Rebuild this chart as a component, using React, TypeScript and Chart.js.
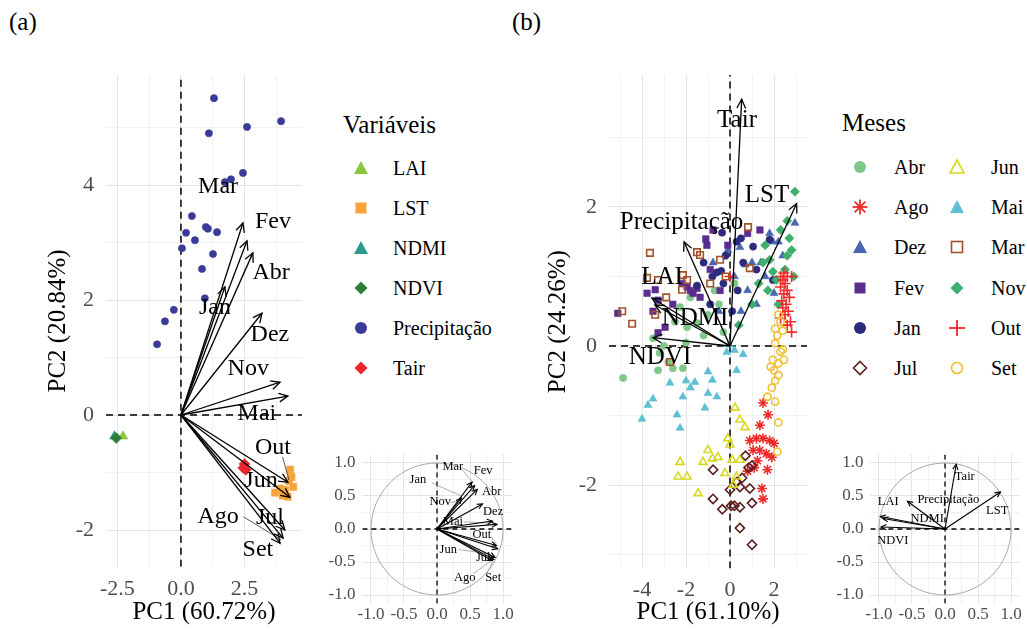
import React, { useEffect, useRef } from "react";
import { Chart, registerables } from "chart.js";
Chart.register(...registerables);

const SERIF = "'Liberation Serif', 'Times New Roman', Times, serif";
type P = [number, number];

// ---------------- tick positions ----------------
const ticksAX = [-2.5, -1.25, 0, 1.25, 2.5, 3.75];
const ticksAY = [-2, -1, 0, 1, 2, 3, 4, 5];
const ticksBX = [-5, -4, -3, -2, -1, 0, 1, 2, 3];
const ticksBY = [-3, -2, -1, 0, 1, 2, 3];
const ticksInset = [-1, -0.75, -0.5, -0.25, 0, 0.25, 0.5, 0.75, 1];

// ---------------- Panel (a): individuals = variables ----------------
const varNamesA = ["LAI", "LST", "NDMI", "NDVI", "Precipitação", "Tair"];
const varColorsA = ["#8CC63F", "#F7A33A", "#2A9C8C", "#2E7D3B", "#3A3B98", "#E8262B"];
const varStylesA = ["triangle", "rect", "triangle", "rectRot", "circle", "rectRot"];
const laiA: P[] = [[-2.28, -0.37]];
const lstA: P[] = [[4.3, -0.95], [4.35, -1.08], [4.1, -1.3], [3.7, -1.35], [4.2, -1.42], [4.42, -1.25], [3.9, -1.28], [4.25, -1.15], [4.0, -1.4]];
const ndmiA: P[] = [[-2.62, -0.37]];
const ndviA: P[] = [[-2.55, -0.4]];
const precipA: P[] = [[1.3, 5.51], [1.1, 4.9], [2.6, 5.01], [3.94, 5.11], [1.73, 4.05], [1.97, 4.1], [2.44, 4.21], [0.43, 3.46], [0.98, 3.27], [1.06, 3.24], [0.2, 3.17], [1.42, 3.18], [0.55, 3.04], [0.04, 2.9], [1.26, 2.8], [0.83, 2.54], [0.94, 2.03], [-0.28, 1.83], [-0.63, 1.63], [-0.94, 1.23]];
const tairA: P[] = [[2.5, -0.85], [2.55, -0.95], [2.45, -0.92]];
const pointsA = [laiA, lstA, ndmiA, ndviA, precipA, tairA];

const monthsA = ["Jan", "Fev", "Mar", "Abr", "Mai", "Jun", "Jul", "Ago", "Set", "Out", "Nov", "Dez"];
const arrowAX = [1.73, 2.44, 2.6, 2.83, 4.21, 4.29, 4.09, 4.02, 3.9, 4.21, 3.9, 3.19];
const arrowAY = [2.23, 3.34, 3.03, 2.82, 0.33, -1.43, -2.0, -2.14, -2.23, -1.17, 0.57, 1.77];
const labelAX = [1.34, 3.62, 1.46, 3.55, 2.99, 3.15, 3.5, 1.46, 3.03, 3.62, 2.65, 3.5];
const labelAY = [1.86, 3.36, 3.97, 2.47, 0.03, -1.15, -1.78, -1.77, -2.35, -0.56, 0.8, 1.39];
const leaderA: [P, P][] = [[[4.0, -0.73], [4.25, -1.13]], [[2.45, -1.77], [3.95, -2.17]]];

// inset (a): correlation circle
const insetAX = [0.37, 0.53, 0.57, 0.61, 0.91, 0.92, 0.88, 0.86, 0.84, 0.9, 0.84, 0.69];
const insetAY = [0.47, 0.71, 0.66, 0.6, 0.07, -0.3, -0.43, -0.46, -0.48, -0.25, 0.12, 0.38];
const insetLabelAX = [-0.29, 0.7, 0.24, 0.83, 0.24, 0.17, 0.7, 0.42, 0.85, 0.68, 0.05, 0.85];
const insetLabelAY = [0.74, 0.89, 0.94, 0.56, 0.11, -0.32, -0.44, -0.74, -0.74, -0.09, 0.41, 0.26];
const insetLeaderA: [P, P][] = [
  [[-0.08, 0.7], [0.37, 0.5]], [[0.38, 0.9], [0.55, 0.7]], [[0.2, 0.4], [0.33, 0.42]],
  [[0.4, 0.11], [0.8, 0.09]], [[0.33, -0.31], [0.8, -0.38]], [[0.55, -0.68], [0.82, -0.48]],
  [[0.76, -0.67], [0.84, -0.5]], [[0.82, -0.12], [0.9, -0.22]],
];

// ---------------- Panel (b): individuals = months ----------------
const monthsB = ["Abr", "Ago", "Dez", "Fev", "Jan", "Jul", "Jun", "Mai", "Mar", "Nov", "Out", "Set"];
const colorsB = ["#80C88A", "#EE2A2A", "#4767B0", "#5B2D8E", "#2D2B7E", "#5C1F1F", "#D8D820", "#5EC0D2", "#A0522D", "#3DAE6C", "#EE2A2A", "#F0C030"];
const stylesB = ["circle", "star", "triangle", "rect", "circle", "rectRot", "triangle", "triangle", "rect", "rectRot", "cross", "circle"];
const openB = [false, false, false, false, false, true, true, false, true, false, false, true];

const abrB: P[] = [[-4.86, -0.46], [-3.27, -0.35], [-2.6, -0.32], [-2.14, -0.32], [-3.5, 0.11], [-2.8, -0.23], [-1.95, 0.27], [-1.5, 0.33], [-2.27, 0.56], [-0.5, 0.6], [-1.0, 0.45], [-0.3, 0.2], [-3.0, 0.0], [-2.0, 0.05], [-1.2, 0.15], [-0.7, 0.8], [-1.8, 0.7], [-2.5, 0.35], [-3.2, -0.1], [0.2, 0.9]];
const agoB: P[] = [[1.5, -0.82], [1.73, -0.99], [1.36, -1.14], [0.9, -1.36], [1.2, -1.33], [1.5, -1.33], [1.8, -1.36], [2.0, -1.4], [1.05, -1.5], [1.35, -1.5], [1.65, -1.55], [0.8, -1.8], [1.1, -1.75], [1.7, -1.78], [1.45, -2.05], [1.5, -2.2], [1.25, -1.65], [1.9, -1.6]];
const dezB: P[] = [[2.95, 1.77], [1.8, 1.62], [1.95, 1.5], [0.45, 1.42], [0.7, 1.17], [-0.1, 1.38], [1.0, 1.2], [1.4, 1.2], [-0.77, 1.2], [2.0, 0.76], [2.4, 1.3], [0.8, 0.8], [1.6, 1.0], [0.2, 1.0], [-0.5, 0.5], [1.2, 0.6], [2.2, 1.5], [0.5, 0.5]];
const fevB: P[] = [[-5.1, 0.47], [-3.77, 0.76], [-3.4, 0.81], [-3.27, 0.66], [-2.18, 0.9], [-1.95, 0.85], [-1.68, 0.76], [-1.1, 1.54], [-0.77, 1.67], [0.8, 1.62], [1.36, 1.67], [-1.8, 0.8], [-1.5, 0.83], [-1.36, 0.7], [-2.95, 0.27], [-3.27, 0.19], [-0.45, 0.8], [-1.05, 1.45], [-2.6, 0.6], [-3.5, 0.5], [-0.9, 1.1], [-0.1, 1.45]];
const janB: P[] = [[-0.36, 1.63], [0.3, 1.5], [0.5, 1.55], [-0.6, 1.06], [-0.4, 1.08], [-0.8, 1.0], [1.05, 1.43], [1.8, 1.53], [1.95, 0.95], [0.35, 0.8], [-1.5, 0.87], [-0.2, 1.3], [0.6, 1.2], [-1.2, 1.2], [1.2, 1.1], [-0.9, 0.6], [0.1, 0.5], [-0.3, 0.9]];
const julB: P[] = [[0.7, -1.58], [1.0, -1.72], [0.85, -1.75], [-0.77, -1.78], [0.3, -1.96], [0.45, -2.03], [0.0, -2.07], [0.9, -2.05], [-0.77, -2.2], [-0.35, -2.35], [0.05, -2.3], [0.2, -2.3], [0.45, -2.32], [1.0, -2.26], [0.45, -2.62], [1.0, -2.86], [0.55, -1.9]];
const junB: P[] = [[0.23, -0.89], [0.45, -1.06], [0.68, -1.17], [-0.1, -1.33], [0.0, -1.42], [-1.0, -1.5], [-0.55, -1.6], [-1.23, -1.67], [-2.27, -1.67], [-2.36, -1.88], [-1.95, -1.88], [-1.45, -2.12], [-0.23, -1.83], [0.1, -1.64], [0.45, -1.64], [0.3, -1.88], [-0.8, -1.62], [0.15, -2.0]];
const maiB: P[] = [[-0.15, -0.09], [0.2, -0.06], [0.6, -0.12], [-0.05, 0.02], [-1.0, -0.37], [0.3, -0.35], [-1.6, -0.52], [-0.8, -0.49], [-2.73, -0.53], [-2.0, -0.5], [-1.0, -0.68], [-0.6, -0.73], [-2.14, -0.73], [-3.5, -0.76], [-3.73, -0.85], [-1.14, -0.89], [-2.41, -0.99], [-4.0, -1.05], [-2.27, -1.18], [-1.8, -0.6]];
const marB: P[] = [[-3.64, 1.34], [-1.5, 1.35], [-1.36, 1.31], [-0.45, 1.24], [-3.77, 0.98], [-3.27, 0.95], [-2.14, 1.02], [-1.95, 0.95], [-2.18, 0.81], [-4.45, 0.32], [-0.9, 0.9], [-2.73, -0.23], [0.82, 1.71], [0.9, 1.12], [-0.2, 1.0], [-3.4, 0.45], [-4.9, 0.5], [-2.9, 0.7]];
const novB: P[] = [[2.95, 2.22], [2.8, 1.38], [2.6, 1.3], [2.3, 1.67], [2.7, 1.55], [1.8, 1.24], [1.5, 1.2], [1.95, 1.07], [1.72, 0.8], [2.1, 0.95], [2.5, 1.1], [1.3, 0.9], [2.9, 1.0], [1.0, 0.6], [2.2, 0.6], [0.4, 0.3], [2.6, 1.8], [1.6, 1.45]];
const outB: P[] = [[2.3, 1.0], [2.6, 1.0], [2.8, 1.0], [2.4, 0.95], [2.5, 0.9], [2.3, 0.85], [2.6, 0.8], [2.45, 0.75], [2.7, 0.7], [2.35, 0.65], [2.55, 0.6], [2.4, 0.55], [2.65, 0.5], [2.5, 0.45], [2.3, 0.4], [2.75, 0.35], [2.6, 0.3], [2.8, 0.2], [0.0, 1.0], [2.45, 1.05]];
const setB: P[] = [[2.2, 0.45], [2.3, 0.35], [2.05, 0.25], [2.4, 0.22], [2.15, 0.15], [2.05, 0.04], [2.3, -0.08], [1.95, -0.2], [2.2, -0.25], [2.45, -0.2], [1.85, -0.3], [2.0, -0.35], [2.2, -0.42], [2.05, -0.5], [1.9, -0.6], [1.7, -0.73], [2.05, -0.8], [2.2, -1.1], [2.15, -1.52], [2.4, -0.05]];
const pointsB = [abrB, agoB, dezB, fevB, janB, julB, junB, maiB, marB, novB, outB, setB];

const varsB = ["LAI", "LST", "NDMI", "NDVI", "Precipitação", "Tair"];
const arrowBX = [-3.55, 3.03, -3.41, -3.5, -2.09, 0.53];
const arrowBY = [0.69, 2.05, 0.59, 0.12, 1.5, 3.55];
const labelBX = [-3.09, 1.68, -1.59, -3.18, -2.2, 0.32];
const labelBY = [0.99, 2.17, 0.4, -0.17, 1.78, 3.25];

const insetBX = [-0.98, 0.84, -0.94, -0.97, -0.57, 0.17];
const insetBY = [0.19, 0.56, 0.16, 0.03, 0.42, 0.98];
const insetLabelBX = [-0.86, 0.79, -0.27, -0.79, 0.05, 0.3];
const insetLabelBY = [0.41, 0.27, 0.15, -0.17, 0.45, 0.79];

// ---------------- helpers ----------------
const isMult = (v: number, m: number) => Math.abs(v / m - Math.round(v / m)) < 1e-6;

function annotPlugin(texts: { t: string; x: number; y: number }[], font: string, head: number, circle: boolean) {
  return {
    id: "annot",
    beforeDatasetsDraw(chart: any) {
      if (!circle) return;
      const { ctx, scales } = chart;
      const cx = scales.x.getPixelForValue(0), cy = scales.y.getPixelForValue(0);
      const rx = scales.x.getPixelForValue(1) - cx, ry = cy - scales.y.getPixelForValue(1);
      ctx.save();
      ctx.strokeStyle = "#A8A8A8";
      ctx.lineWidth = 1;
      ctx.beginPath();
      ctx.ellipse(cx, cy, rx, ry, 0, 0, Math.PI * 2);
      ctx.stroke();
      ctx.restore();
    },
    afterDatasetsDraw(chart: any) {
      const { ctx, scales } = chart;
      chart.data.datasets.forEach((ds: any, i: number) => {
        if (!ds.isArrow) return;
        const meta = chart.getDatasetMeta(i);
        const a = meta.data[0], b = meta.data[1];
        const ang = Math.atan2(b.y - a.y, b.x - a.x);
        const w = 0.45;
        ctx.save();
        ctx.strokeStyle = "#000";
        ctx.lineWidth = ds.borderWidth;
        ctx.beginPath();
        ctx.moveTo(b.x - head * Math.cos(ang - w), b.y - head * Math.sin(ang - w));
        ctx.lineTo(b.x, b.y);
        ctx.lineTo(b.x - head * Math.cos(ang + w), b.y - head * Math.sin(ang + w));
        ctx.stroke();
        ctx.restore();
      });
      ctx.save();
      ctx.fillStyle = "#000";
      ctx.font = font;
      ctx.textAlign = "center";
      ctx.textBaseline = "middle";
      texts.forEach((t) => ctx.fillText(t.t, scales.x.getPixelForValue(t.x), scales.y.getPixelForValue(t.y)));
      ctx.restore();
    },
  };
}

function mkScale(o: any) {
  return {
    type: "linear",
    bounds: "data",
    min: o.min,
    max: o.max,
    afterBuildTicks: (s: any) => {
      s.ticks = o.ticks.map((v: number) => ({ value: v }));
    },
    afterFit: (s: any) => {
      if (o.vertical) s.width = o.size;
      else s.height = o.size;
    },
    border: { display: false },
    grid: {
      drawTicks: false,
      lineWidth: 1,
      color: (c: any) => {
        const v = c.tick ? c.tick.value : NaN;
        return isMult(v, o.major) ? "#E4E4E4" : "#F1F1F1";
      },
    },
    ticks: {
      autoSkip: false,
      maxRotation: 0,
      minRotation: 0,
      padding: o.tickPad,
      color: "#4D4D4D",
      font: { family: SERIF, size: o.tickFont },
      callback: (v: any) => (isMult(Number(v), o.major) ? o.fmt(Number(v)) : ""),
    },
    title: o.title
      ? { display: true, text: o.title, color: "#000", font: { family: SERIF, size: 25 }, padding: o.titlePad }
      : { display: false },
  };
}

function line(a: P, b: P, color: string, width: number, dash: number[] | null, order: number, isArrow = false) {
  return {
    data: [{ x: a[0], y: a[1] }, { x: b[0], y: b[1] }],
    showLine: true,
    borderColor: color,
    borderWidth: width,
    borderDash: dash || [],
    pointRadius: 0,
    pointHoverRadius: 0,
    fill: false,
    tension: 0,
    order,
    isArrow,
  };
}

function pts(list: P[], style: string, color: string, open: boolean, radius: number, order: number) {
  return {
    data: list.map(([x, y]) => ({ x, y })),
    showLine: false,
    pointStyle: style,
    pointRadius: radius,
    pointHoverRadius: radius,
    pointBackgroundColor: open ? "rgba(0,0,0,0)" : color,
    pointBorderColor: color,
    pointBorderWidth: open || style === "cross" || style === "star" ? 1.6 : 0.6,
    backgroundColor: open ? "rgba(0,0,0,0)" : color,
    borderColor: color,
    order,
  };
}

function baseConfig(datasets: any[], scales: any, pad: any, plugin: any) {
  return {
    type: "scatter",
    data: { datasets },
    options: {
      responsive: false,
      animation: false,
      events: [],
      layout: { padding: pad },
      plugins: { legend: { display: false }, tooltip: { enabled: false } },
      scales,
    },
    plugins: [plugin],
  };
}

// ---------------- chart configs ----------------
function configMainA() {
  const xr: P = [-2.95, 4.76], yr: P = [-2.64, 5.91];
  const ds: any[] = [];
  monthsA.forEach((m, i) => ds.push(line([0, 0], [arrowAX[i], arrowAY[i]], "#000", 1.3, null, 0, true)));
  leaderA.forEach(([a, b]) => ds.push(line(a, b, "#333", 0.8, null, 1)));
  pointsA.forEach((list, i) => ds.push(pts(list, varStylesA[i], varColorsA[i], false, i === 1 ? 5 : i === 4 ? 3.6 : 5.5, 20 - i)));
  ds.push(line([xr[0], 0], [xr[1], 0], "#000", 1.5, [7, 5], 100));
  ds.push(line([0, yr[0]], [0, yr[1]], "#000", 1.5, [7, 5], 100));
  const texts = monthsA.map((t, i) => ({ t, x: labelAX[i], y: labelAY[i] }));
  return baseConfig(
    ds,
    {
      x: mkScale({ min: xr[0], max: xr[1], ticks: ticksAX, major: 2.5, size: 63.2, tickPad: 9, tickFont: 22, fmt: (v: number) => v.toFixed(1), title: "PC1 (60.72%)", titlePad: { top: 0, bottom: 3 } }),
      y: mkScale({ vertical: true, min: yr[0], max: yr[1], ticks: ticksAY, major: 2, size: 106, tickPad: 12, tickFont: 22, fmt: (v: number) => String(v), title: "PC2 (20.84%)", titlePad: { top: 43, bottom: 0 } }),
    },
    { left: 0, right: 8.1, top: 30.2, bottom: 0 },
    annotPlugin(texts, `24px ${SERIF}`, 10, false)
  );
}

function configMainB() {
  const xr: P = [-5.5, 3.5], yr: P = [-3.2, 3.9];
  const ds: any[] = [];
  varsB.forEach((v, i) => ds.push(line([0, 0], [arrowBX[i], arrowBY[i]], "#000", 1.3, null, 0, true)));
  pointsB.forEach((list, i) => {
    const st = stylesB[i];
    const r = st === "circle" ? 3.6 : st === "cross" ? 5.5 : st === "star" ? 5 : 4.6;
    ds.push(pts(list, st, colorsB[i], openB[i], r, 50 - i));
  });
  ds.push(line([xr[0], 0], [xr[1], 0], "#000", 1.5, [7, 5], 100));
  ds.push(line([0, yr[0]], [0, yr[1]], "#000", 1.5, [7, 5], 100));
  const texts = varsB.map((t, i) => ({ t, x: labelBX[i], y: labelBY[i] }));
  return baseConfig(
    ds,
    {
      x: mkScale({ min: xr[0], max: xr[1], ticks: ticksBX, major: 2, size: 61.6, tickPad: 9, tickFont: 22, fmt: (v: number) => String(v), title: "PC1 (61.10%)", titlePad: { top: 0, bottom: 3 } }),
      y: mkScale({ vertical: true, min: yr[0], max: yr[1], ticks: ticksBY, major: 2, size: 109, tickPad: 12, tickFont: 22, fmt: (v: number) => String(v), title: "PC2 (24.26%)", titlePad: { top: 43, bottom: 0 } }),
    },
    { left: 0, right: 8, top: 29.95, bottom: 0 },
    annotPlugin(texts, `25px ${SERIF}`, 10, false)
  );
}

function configInset(ax: number[], ay: number[], lx: number[], ly: number[], names: string[], leaders: [P, P][], yAxisW: number, padRight: number) {
  const r: P = [-1.13, 1.13];
  const ds: any[] = [];
  names.forEach((n, i) => ds.push(line([0, 0], [ax[i], ay[i]], "#000", 1.1, null, 0, true)));
  leaders.forEach(([a, b]) => ds.push(line(a, b, "#9A9A9A", 0.8, null, 1)));
  ds.push(line([r[0], 0], [r[1], 0], "#000", 1.3, [5, 4], 100));
  ds.push(line([0, r[0]], [0, r[1]], "#000", 1.3, [5, 4], 100));
  const texts = names.map((t, i) => ({ t, x: lx[i], y: ly[i] }));
  const f = (v: number) => v.toFixed(1);
  return baseConfig(
    ds,
    {
      x: mkScale({ min: r[0], max: r[1], ticks: ticksInset, major: 0.5, size: 26.4, tickPad: 1, tickFont: 17, fmt: f }),
      y: mkScale({ vertical: true, min: r[0], max: r[1], ticks: ticksInset, major: 0.5, size: yAxisW, tickPad: 7, tickFont: 17, fmt: f }),
    },
    { left: 0, right: padRight, top: 24.4, bottom: 0 },
    annotPlugin(texts, `12.5px ${SERIF}`, 6, true)
  );
}

// ---------------- components ----------------
function ChartBox({ left, top, width, height, make }: any) {
  const ref = useRef<HTMLCanvasElement>(null);
  useEffect(() => {
    const chart = new Chart(ref.current as HTMLCanvasElement, make() as any);
    return () => chart.destroy();
  }, []);
  return <canvas ref={ref} width={width} height={height} style={{ position: "absolute", left, top, width, height }} />;
}

function Sym({ kind, color, open }: { kind: string; color: string; open: boolean }) {
  const s = 18, c = 9;
  const fill = open ? "none" : color;
  const sw = open ? 1.6 : 0;
  let el: any = null;
  if (kind === "circle") el = <circle cx={c} cy={c} r={open ? 5.5 : 6} fill={fill} stroke={color} strokeWidth={sw} />;
  else if (kind === "triangle") el = <polygon points="9,2 16,15 2,15" fill={fill} stroke={color} strokeWidth={sw} />;
  else if (kind === "rect") el = <rect x={3.5} y={3.5} width={11} height={11} fill={fill} stroke={color} strokeWidth={sw} />;
  else if (kind === "rectRot") el = <polygon points="9,2.5 15.5,9 9,15.5 2.5,9" fill={fill} stroke={color} strokeWidth={open ? 1.6 : 0} />;
  else if (kind === "cross")
    el = (
      <g stroke={color} strokeWidth={1.8}>
        <line x1={1} y1={9} x2={17} y2={9} />
        <line x1={9} y1={1} x2={9} y2={17} />
      </g>
    );
  else if (kind === "star")
    el = (
      <g stroke={color} strokeWidth={1.8}>
        <line x1={1.5} y1={9} x2={16.5} y2={9} />
        <line x1={9} y1={1.5} x2={9} y2={16.5} />
        <line x1={3.7} y1={3.7} x2={14.3} y2={14.3} />
        <line x1={3.7} y1={14.3} x2={14.3} y2={3.7} />
      </g>
    );
  return (
    <svg width={s} height={s} style={{ display: "block" }}>
      {el}
    </svg>
  );
}

function Txt({ x, y, size, children, color = "#000" }: any) {
  return (
    <div style={{ position: "absolute", left: x, top: y - 15, height: 30, lineHeight: "30px", fontSize: size, fontFamily: SERIF, color, whiteSpace: "nowrap" }}>
      {children}
    </div>
  );
}

function SymAt({ x, y, kind, color, open }: any) {
  return (
    <div style={{ position: "absolute", left: x - 9, top: y - 9 }}>
      <Sym kind={kind} color={color} open={open} />
    </div>
  );
}

export default function App() {
  const legendAY = [168, 208, 248, 288, 328, 368];
  const legendBY = [167, 207, 247, 288, 328, 368];
  return (
    <div style={{ position: "fixed", left: 0, top: 0, width: 1027, height: 630, background: "#fff", overflow: "hidden" }}>
      <ChartBox left={0} top={45} width={310} height={585} make={configMainA} />
      <ChartBox left={500} top={45} width={315} height={585} make={configMainB} />
      <ChartBox left={300} top={430} width={216} height={200} make={() => configInset(insetAX, insetAY, insetLabelAX, insetLabelAY, monthsA, insetLeaderA, 62.4, 4.4)} />
      <ChartBox left={800} top={430} width={227} height={200} make={() => configInset(insetBX, insetBY, insetLabelBX, insetLabelBY, varsB, [], 70.4, 7.4)} />

      <Txt x={9} y={22} size={25}>(a)</Txt>
      <Txt x={512} y={22} size={25}>(b)</Txt>

      <Txt x={343} y={125} size={25}>Variáveis</Txt>
      {varNamesA.map((n, i) => (
        <React.Fragment key={n}>
          <SymAt x={361} y={legendAY[i]} kind={varStylesA[i]} color={varColorsA[i]} open={false} />
          <Txt x={393} y={legendAY[i]} size={20}>{n}</Txt>
        </React.Fragment>
      ))}

      <Txt x={842} y={123} size={25}>Meses</Txt>
      {monthsB.map((n, i) => {
        const col = i < 6 ? 0 : 1;
        const row = i % 6;
        const sx = col === 0 ? 860 : 957;
        const tx = col === 0 ? 894 : 991;
        return (
          <React.Fragment key={n}>
            <SymAt x={sx} y={legendBY[row]} kind={stylesB[i]} color={colorsB[i]} open={openB[i]} />
            <Txt x={tx} y={legendBY[row]} size={20}>{n}</Txt>
          </React.Fragment>
        );
      })}
    </div>
  );
}
